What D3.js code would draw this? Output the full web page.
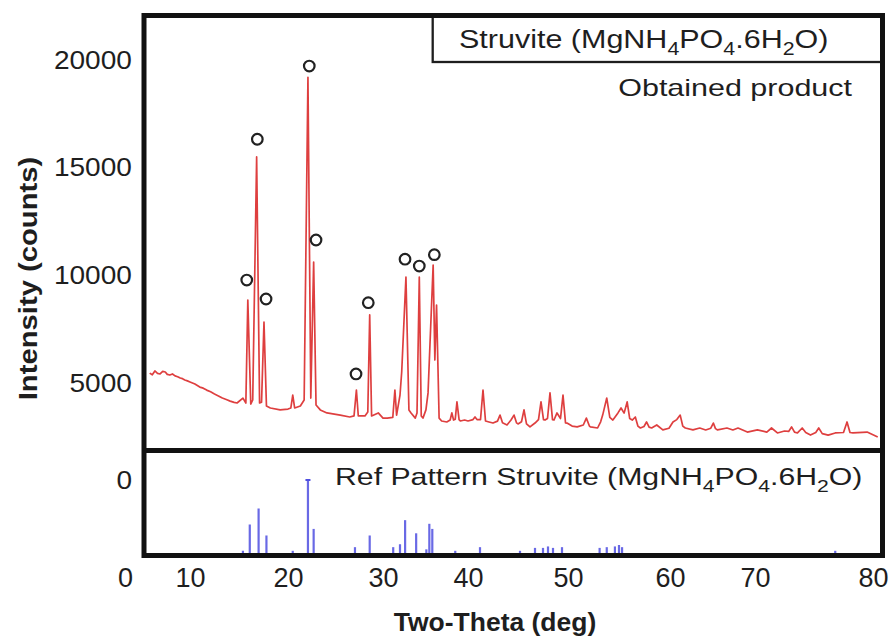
<!DOCTYPE html>
<html>
<head>
<meta charset="utf-8">
<script src="https://cdn.jsdelivr.net/npm/d3@7"></script>
<style>
  body { margin: 0; background: #fff; }
  svg { display: block; }
</style>
</head>
<body>
<svg id="chart" width="893" height="639"></svg>
<script>
// ---- XRD pattern of the obtained product (2θ in degrees, intensity in counts) ----
const twoTheta = [
  3.8, 4.2, 4.6, 5.0, 5.4, 5.8, 6.2, 6.5, 6.9, 7.3, 7.7, 8.1, 8.5, 8.85, 9.2, 9.6,
  10.0, 10.5, 11.0, 11.35, 11.7, 12.1, 12.5, 12.9, 13.3, 13.7, 14.1, 14.5, 14.8,
  15.4, 15.7, 15.9, 16.2, 16.4, 16.8, 17.1, 17.3, 17.55, 17.8, 18.2, 19.2, 20.0, 20.3, 20.5, 20.7,
  21.3, 21.7, 22.1, 22.4, 22.7, 22.95, 23.4, 24.1, 25.5, 26.5, 26.95, 27.2, 27.4, 28.1, 28.4, 28.6,
  28.8, 29.5, 30.0, 30.5, 31.15, 31.4, 31.6, 32.0, 32.2, 32.7, 33.05, 33.3, 33.8, 34.0, 34.27, 34.5, 34.7,
  35.05, 35.3, 35.9, 36.1, 36.3, 36.6, 36.9, 37.5, 37.9, 38.1, 38.3, 38.5, 38.7, 38.95, 39.1, 39.6,
  40.0, 40.5, 40.7, 40.9, 41.25, 41.5, 41.75, 42.1, 42.5, 42.95, 43.2, 43.45, 43.9, 44.3, 44.6, 44.85,
  45.0, 45.35, 45.6, 45.85, 46.2, 46.7, 47.05, 47.3, 47.55, 47.7, 47.95, 48.2, 48.45, 48.6, 48.9, 49.25,
  49.5, 49.75, 49.9, 50.4, 50.9, 51.5, 51.8, 52.1, 52.2, 52.9, 53.2, 53.4, 53.8, 54.1, 54.4, 54.9,
  55.2, 55.5, 55.8, 56.05, 56.3, 56.6, 56.85, 57.1, 57.45, 57.7, 57.95, 58.2, 58.7, 59.3, 59.9, 60.35,
  60.8, 61.2, 61.5, 61.8, 62.7, 63.5, 64.2, 64.8, 65.1, 65.35, 65.6, 66.7, 67.4, 68.0, 69.1, 70.2,
  71.0, 71.4, 71.9, 72.5, 72.85, 73.1, 73.35, 73.6, 74.0, 74.3, 74.7, 75.15, 75.4, 75.7, 76.2, 76.8,
  77.5, 77.8, 78.05, 78.3, 79.5, 80.4
];
const counts = [
  5460, 5380, 5560, 5450, 5420, 5540, 5510, 5400, 5370, 5420, 5330, 5290, 5230, 5200, 5140, 5100,
  5050, 4950, 4810, 4760, 4670, 4590, 4490, 4400, 4300, 4230, 4160, 4100, 4070,
  4300, 4070, 8850, 4020, 4210, 15500, 4070, 4110, 7830, 3930, 3840, 3750, 3790, 3840, 4440, 3840,
  3930, 4210, 19200, 4300, 10620, 3980, 3750, 3610, 3510, 3420, 3470, 4675, 3470, 3470, 3650, 8160,
  3470, 3610, 3370, 3370, 3400, 4675, 3510, 4440, 5510, 9920, 3750, 3610, 3370, 3610, 9920, 3470, 3370,
  3750, 4540, 10480, 6070, 8620, 3370, 3235, 3190, 3280, 3610, 3280, 3320, 4120, 3300, 3235, 3280,
  3235, 3300, 3420, 3300, 3300, 4675, 3235, 3190, 3140, 3230, 3510, 3150, 3050, 3280, 3510, 3150,
  3100, 3200, 3750, 3100, 2960, 3140, 3300, 4120, 3300, 3280, 3350, 4540, 3300, 3280, 3610, 3350,
  4440, 3150, 3140, 3000, 2960, 3050, 3370, 3000, 2960, 2910, 3200, 3510, 4300, 3400, 3280, 3610,
  3840, 3600, 4120, 3350, 3280, 3420, 3000, 2910, 2980, 3190, 2950, 2910, 3050, 2820, 2900, 3190,
  3300, 3510, 3000, 2910, 2820, 2910, 2820, 2900, 3140, 2880, 2820, 2910, 2820, 2910, 2720, 2820,
  2720, 2910, 2680, 2770, 2750, 2960, 2720, 2680, 2910, 2700, 2580, 2700, 2910, 2650, 2580, 2680,
  2700, 3190, 2700, 2680, 2720, 2490
];

// ---- Peaks identified as struvite (open circles) ----
const markerTheta  = [15.79, 16.87, 17.76, 22.24, 22.95, 27.16, 28.45, 32.59, 34.27, 36.04];
const markerCounts = [9780, 16320, 8900, 19720, 11640, 5420, 8730, 10750, 10430, 10960];

// ---- Reference pattern, struvite (relative intensity, %) ----
const refTheta = [15.4, 16.1, 17.0, 17.8, 20.5, 22.1, 22.7, 27.05, 28.6, 31.2, 32.0, 32.6, 33.9, 35.1, 35.45,
  35.8, 38.5, 41.2, 45.2, 46.7, 47.5, 48.0, 48.5, 49.4, 53.1, 53.8, 54.6, 55.0, 55.3, 76.8];
const refIntensity = [3, 39, 61, 24, 3, 100, 33, 8, 24, 8, 12, 45, 27, 5, 40,
  33, 3, 8, 3, 7, 7, 9, 7, 8, 7, 8, 9, 11, 8, 3];

// ---- Axis ticks ----
const xTicks = [0, 10, 20, 30, 40, 50, 60, 70, 80];
const yTicks = [5000, 10000, 15000, 20000];

// ---- Layout ----
const svg = d3.select("#chart");
const frame = { left: 144, right: 882.5, top: 15.5, bottom: 555.5, split: 450.5 };
const FONT = "'Liberation Sans', Arial, Helvetica, sans-serif";
const INK = "#1e1e1e";

// the 2θ axis of this figure is hand-spaced, so the scale is piecewise linear
const xStops = [125, 190, 288, 383, 468, 568, 670, 755, 873];
const x = d3.scaleLinear().domain(xTicks).range(xStops);
const y = d3.scaleLinear().domain([1865, 22067]).range([frame.split, frame.top]);
const refY = d3.scaleLinear().domain([0, 100]).range([frame.bottom - 2.5, 480]);

const defs = svg.append("defs");
defs.append("clipPath").attr("id", "clipTop").append("rect")
  .attr("x", frame.left + 2.5).attr("y", frame.top + 2.5)
  .attr("width", frame.right - frame.left - 5).attr("height", frame.split - frame.top - 4.5);
defs.append("clipPath").attr("id", "clipRef").append("rect")
  .attr("x", frame.left + 2.5).attr("y", frame.split + 2)
  .attr("width", frame.right - frame.left - 5).attr("height", frame.bottom - frame.split - 4.5);

// text helper: optional horizontal stretch and subscripts
function label(parent, px, py, opts, parts) {
  const size = opts.size;
  const t = parent.append("text")
    .attr("transform", `translate(${px},${py})` + (opts.rotate ? ` rotate(${opts.rotate})` : "") + ` scale(${opts.sx || 1},1)`)
    .attr("text-anchor", opts.anchor || "start")
    .attr("font-family", FONT)
    .attr("font-size", size)
    .attr("font-weight", opts.weight || "normal")
    .attr("fill", INK);
  if (opts.dy) t.attr("dy", opts.dy);
  let shifted = false;
  (Array.isArray(parts) ? parts : [parts]).forEach(p => {
    const isSub = typeof p === "object";
    const s = isSub ? p.sub : p;
    const ts = t.append("tspan").text(s);
    if (isSub) {
      ts.attr("font-size", size * 0.7).attr("dy", size * 0.28);
      shifted = true;
    } else if (shifted) {
      ts.attr("dy", -size * 0.28);
      shifted = false;
    }
  });
  return t;
}
const formula = ["(MgNH", { sub: "4" }, "PO", { sub: "4" }, ".6H", { sub: "2" }, "O)"];

// ---- Top panel: measured pattern ----
const topPanel = svg.append("g").attr("clip-path", "url(#clipTop)");
const line = d3.line().x(d => x(d[0])).y(d => y(d[1]));
topPanel.append("path")
  .datum(d3.zip(twoTheta, counts))
  .attr("d", line)
  .attr("fill", "none")
  .attr("stroke", "#d92424")
  .attr("stroke-width", 1.7)
  .attr("stroke-linejoin", "round")
  .attr("stroke-opacity", 0.88);

topPanel.selectAll("circle.peak")
  .data(d3.zip(markerTheta, markerCounts))
  .join("circle")
  .attr("class", "peak")
  .attr("cx", d => x(d[0]))
  .attr("cy", d => y(d[1]))
  .attr("r", 5.3)
  .attr("fill", "none")
  .attr("stroke", "#222")
  .attr("stroke-width", 2.2);

// ---- Bottom panel: reference sticks ----
const refPanel = svg.append("g").attr("clip-path", "url(#clipRef)");
const refData = d3.zip(refTheta, refIntensity);
refPanel.selectAll("line.stick")
  .data(refData)
  .join("line")
  .attr("class", "stick")
  .attr("x1", d => x(d[0])).attr("x2", d => x(d[0]))
  .attr("y1", refY(0)).attr("y2", d => refY(d[1]))
  .attr("stroke", "#4f4fe0")
  .attr("stroke-width", 2.2)
  .attr("stroke-opacity", 0.85);
const refMax = d3.max(refIntensity);
refPanel.selectAll("line.cap")
  .data(refData.filter(d => d[1] === refMax))
  .join("line")
  .attr("class", "cap")
  .attr("x1", d => x(d[0]) - 2.5).attr("x2", d => x(d[0]) + 2.5)
  .attr("y1", d => refY(d[1])).attr("y2", d => refY(d[1]))
  .attr("stroke", "#4f4fe0").attr("stroke-width", 1.8);

// ---- Axes ----
const yAxis = svg.append("g")
  .attr("transform", `translate(${frame.left},0)`)
  .call(d3.axisLeft(y).tickValues(yTicks).tickSize(0).tickPadding(11).tickFormat(d3.format("d")));
yAxis.select(".domain").remove();
yAxis.selectAll("text")
  .attr("font-family", FONT).attr("font-size", 25.5).attr("fill", INK)
  .attr("transform", "scale(1.1,1)");

const xAxis = svg.append("g")
  .attr("transform", `translate(0,${frame.bottom})`)
  .call(d3.axisBottom(x).tickValues(xTicks).tickSize(0).tickPadding(12).tickFormat(d3.format("d")));
xAxis.select(".domain").remove();
xAxis.selectAll("text")
  .attr("font-family", FONT).attr("font-size", 27).attr("fill", INK);

// axis of the reference panel
label(svg, frame.left - 12, refY(refMax), { size: 25.5, sx: 1.1, anchor: "end", dy: "0.35em" }, "0");

// axis titles
label(svg, 37, 278.5, { size: 25, sx: 1.17, anchor: "middle", weight: "bold", rotate: -90 }, "Intensity (counts)");
label(svg, 495, 631, { size: 25, sx: 1.06, anchor: "middle", weight: "bold" }, "Two-Theta (deg)");

// ---- Frame, legend box and panel captions ----
svg.append("rect")
  .attr("x", 432.7).attr("y", frame.top)
  .attr("width", frame.right - 432.7).attr("height", 62 - frame.top)
  .attr("fill", "#fff").attr("stroke", INK).attr("stroke-width", 2.3);
label(svg, 459, 48, { size: 25, sx: 1.22 }, ["Struvite "].concat(formula));
label(svg, 852, 96, { size: 24, sx: 1.27, anchor: "end" }, "Obtained product");
label(svg, 335, 485, { size: 24, sx: 1.26 }, ["Ref Pattern Struvite "].concat(formula));

svg.append("rect")
  .attr("x", frame.left).attr("y", frame.top)
  .attr("width", frame.right - frame.left).attr("height", frame.bottom - frame.top)
  .attr("fill", "none").attr("stroke", "#111").attr("stroke-width", 5);
svg.append("line")
  .attr("x1", frame.left).attr("x2", frame.right)
  .attr("y1", frame.split).attr("y2", frame.split)
  .attr("stroke", "#111").attr("stroke-width", 5);
</script>
</body>
</html>
